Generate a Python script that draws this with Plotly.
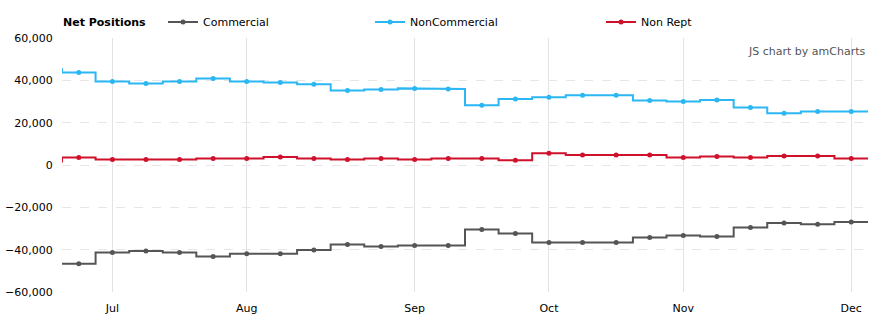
import plotly.graph_objects as go
from datetime import date

dates = ["2022-06-21", "2022-06-28", "2022-07-05", "2022-07-12", "2022-07-19", "2022-07-26",
         "2022-08-02", "2022-08-09", "2022-08-16", "2022-08-23", "2022-08-30",
         "2022-09-06", "2022-09-13", "2022-09-20", "2022-09-27",
         "2022-10-04", "2022-10-11", "2022-10-18", "2022-10-25",
         "2022-11-01", "2022-11-08", "2022-11-15", "2022-11-22", "2022-11-29",
         "2022-12-06"]
commercial = [-46600, -46640, -41300, -40640, -41300, -43180, -41900, -41900, -40170, -37500, -38460,
              -37990, -38000, -30430, -32320, -36570, -36570, -36570, -34200, -33260, -33730,
              -29480, -27400, -28050, -26930]
noncommercial = [45200, 43750, 39500, 38560, 39500, 40900, 39500, 39000, 38100, 35250, 35700,
                 36200, 35900, 28200, 31200, 31950, 32900, 32900, 30500, 30050, 30700,
                 27200, 24400, 25300, 25300]
nonrept = [1600, 3600, 2650, 2650, 2650, 3100, 3100, 3780, 3100, 2650, 3100,
           2650, 3100, 3100, 2200, 5500, 4700, 4700, 4700, 3600, 4070,
           3600, 4200, 4200, 3100]
series_names = ["Commercial", "NonCommercial", "Non Rept"]
series_colors = ["#555555", "#2bb7f4", "#d0112b"]
month_labels = ["Jan", "Feb", "Mar", "Apr", "May", "Jun", "Jul", "Aug", "Sep", "Oct", "Nov", "Dec"]

FONT = "DejaVu Sans, Verdana, sans-serif"

idx = list(range(len(dates)))
parsed = [date.fromisoformat(d) for d in dates]

# month ticks at first data point of each month
tickvals, ticktext = [], []
for i, d in enumerate(parsed):
    if i == 0:
        continue
    if d.month != parsed[i - 1].month:
        tickvals.append(i)
        ticktext.append(month_labels[d.month - 1])

fig = go.Figure()
legend_ids = ["legend", "legend2", "legend3"]
for k, (name, vals, col) in enumerate(zip(series_names, [commercial, noncommercial, nonrept], series_colors)):
    sx, sy = [], []
    for i, v in zip(idx, vals):
        sx += [i - 0.5, i + 0.5]
        sy += [v, v]
    fig.add_trace(go.Scatter(x=sx, y=sy, mode="lines", line=dict(color=col, width=2),
                             showlegend=False, hoverinfo="skip", legendgroup=name))
    mx, my = [], []
    for i, v in zip(idx, vals):
        mx += [i, None]
        my += [v, None]
    fig.add_trace(go.Scatter(x=mx, y=my, mode="lines+markers", name=name, connectgaps=False,
                             line=dict(color=col, width=2), marker=dict(color=col, size=5),
                             legendgroup=name, legend=legend_ids[k]))

W, H = 883, 327
ml, mr, mt, mb = 62, 15, 38, 35
pw, ph = W - ml - mr, H - mt - mb

def px_x(p):
    return (p - ml) / pw

def px_y(p):
    return 1 + (mt - p) / ph

leg_common = dict(orientation="h", yanchor="middle", xanchor="left", bgcolor="rgba(0,0,0,0)",
                  font=dict(family=FONT, size=11, color="#000000"), itemwidth=30)

fig.update_layout(
    width=W, height=H,
    margin=dict(l=ml, r=mr, t=mt, b=mb, autoexpand=False),
    paper_bgcolor="white", plot_bgcolor="white",
    font=dict(family=FONT, size=11, color="#000000"),
    legend=dict(x=px_x(163), y=px_y(22), **leg_common),
    legend2=dict(x=px_x(370), y=px_y(22), **leg_common),
    legend3=dict(x=px_x(601), y=px_y(22), **leg_common),
    xaxis=dict(range=[0.5, len(dates) - 0.5], tickvals=tickvals, ticktext=ticktext,
               showgrid=True, gridcolor="#e3e3e3", gridwidth=1, zeroline=False, showline=False,
               ticks="outside", ticklen=6, tickcolor="rgba(0,0,0,0)",
               tickfont=dict(family=FONT, size=11, color="#000000")),
    yaxis=dict(range=[-60000, 60000], dtick=20000, tickformat=",d",
               showgrid=True, gridcolor="#e6e6e6", griddash="dash", gridwidth=1,
               zeroline=False, showline=False,
               ticks="outside", ticklen=6, tickcolor="rgba(0,0,0,0)",
               tickfont=dict(family=FONT, size=11, color="#000000")),
    annotations=[
        dict(text="<b>Net Positions</b>", xref="paper", yref="paper", x=px_x(61), y=px_y(22),
             xanchor="left", yanchor="middle", showarrow=False,
             font=dict(family=FONT, size=11, color="#000000")),
        dict(text="JS chart by amCharts", xref="paper", yref="paper", x=px_x(867), y=px_y(51),
             xanchor="right", yanchor="middle", showarrow=False,
             font=dict(family=FONT, size=11, color="#555555")),
    ],
)

fig.write_html("out.html")
